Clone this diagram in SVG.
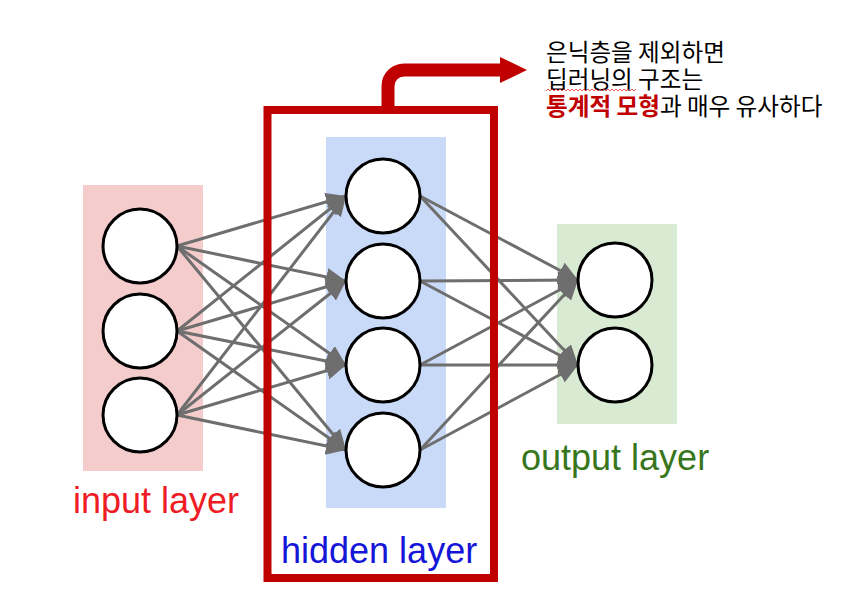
<svg xmlns="http://www.w3.org/2000/svg" width="845" height="604" viewBox="0 0 845 604">
<defs>
<style>
.node{fill:#fff;stroke:#000;stroke-width:3}
.conn line{stroke:#6e6e6e;stroke-width:3;marker-end:url(#ah)}
.lbl{font-family:"Liberation Sans",Arial,sans-serif;font-size:36px}
.kr{font-family:"Noto Sans CJK KR","Noto Sans CJK SC",sans-serif;font-size:23.6px;fill:#000}
</style>
<marker id="ah" markerUnits="userSpaceOnUse" markerWidth="22" markerHeight="20" refX="20" refY="9" orient="auto">
<path d="M0,0 L20,9 L0,18 Z" fill="#6e6e6e"/>
</marker>
</defs>
<rect width="845" height="604" fill="#fff"/>
<g id="layer-bg">
<rect x="83" y="185" width="120" height="286" fill="#f4cccc"/>
<rect x="326" y="137" width="120" height="371" fill="#c9daf8"/>
<rect x="557" y="224" width="120" height="200" fill="#d9ead3"/>
</g>
<g id="connectors" class="conn">
<line x1="177" y1="246" x2="346" y2="196"/>
<line x1="177" y1="246" x2="346" y2="281"/>
<line x1="177" y1="246" x2="346" y2="365"/>
<line x1="177" y1="246" x2="346" y2="450"/>
<line x1="177" y1="331" x2="346" y2="196"/>
<line x1="177" y1="331" x2="346" y2="281"/>
<line x1="177" y1="331" x2="346" y2="365"/>
<line x1="177" y1="331" x2="346" y2="450"/>
<line x1="177" y1="415" x2="346" y2="196"/>
<line x1="177" y1="415" x2="346" y2="281"/>
<line x1="177" y1="415" x2="346" y2="365"/>
<line x1="177" y1="415" x2="346" y2="450"/>
<line x1="420" y1="196" x2="578" y2="280"/>
<line x1="420" y1="196" x2="578" y2="365"/>
<line x1="420" y1="281" x2="578" y2="280"/>
<line x1="420" y1="281" x2="578" y2="365"/>
<line x1="420" y1="365" x2="578" y2="280"/>
<line x1="420" y1="365" x2="578" y2="365"/>
<line x1="420" y1="450" x2="578" y2="280"/>
<line x1="420" y1="450" x2="578" y2="365"/>
</g>
<g id="in1"><circle class="node" cx="140" cy="246" r="37"/></g>
<g id="in2"><circle class="node" cx="140" cy="331" r="37"/></g>
<g id="in3"><circle class="node" cx="140" cy="415" r="37"/></g>
<g id="h1"><circle class="node" cx="383" cy="196" r="37"/></g>
<g id="h2"><circle class="node" cx="383" cy="281" r="37"/></g>
<g id="h3"><circle class="node" cx="383" cy="365" r="37"/></g>
<g id="h4"><circle class="node" cx="383" cy="450" r="37"/></g>
<g id="o1"><circle class="node" cx="615" cy="280" r="37"/></g>
<g id="o2"><circle class="node" cx="615" cy="365" r="37"/></g>
<g id="labels">
<text class="lbl" x="73" y="513" fill="#ee1c24">input layer</text>
<text class="lbl" x="281" y="563" fill="#1515d8">hidden layer</text>
<text class="lbl" x="521" y="470" fill="#38761d">output layer</text>
</g>
<g id="highlight">
<rect x="267.5" y="110" width="226.5" height="468" fill="none" stroke="#c00000" stroke-width="8"/>
<path d="M388,110 V86 A16,16 0 0 1 404,70 H502" fill="none" stroke="#c00000" stroke-width="13"/>
<path d="M500,57 L527,70 L500,83 Z" fill="#c00000"/>
</g>
<g id="note">
<text class="kr" x="546" y="61">은닉층을 제외하면</text>
<text class="kr" x="546" y="88">딥러닝의 구조는</text>
<path d="M546,91 l2,-2 l2,2 l2,-2 l2,2 l2,-2 l2,2 l2,-2 l2,2 l2,-2 l2,2 l2,-2 l2,2 l2,-2 l2,2 l2,-2 l2,2 l2,-2 l2,2 l2,-2 l2,2 l2,-2 l2,2 l2,-2 l2,2 l2,-2 l2,2 l2,-2 l2,2 l2,-2 l2,2 l2,-2 l2,2 l2,-2 l2,2 l2,-2 l2,2 l2,-2 l2,2 l2,-2 l2,2 l2,-2 l2,2 l2,-2 l2,2 l2,-2" fill="none" stroke="#e03030" stroke-width="0.8"/>
<text class="kr" x="546" y="115"><tspan fill="#c00000" font-weight="bold">통계적 모형</tspan>과 매우 유사하다</text>
</g>
</svg>
